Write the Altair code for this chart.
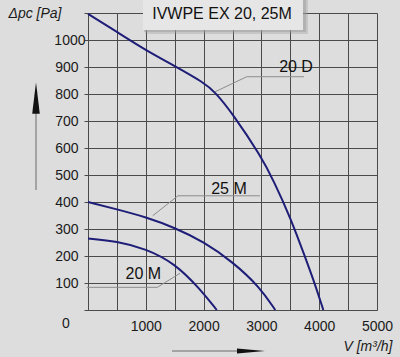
import altair as alt
import pandas as pd

# ---- data ----
x_20d = [0, 500, 1000, 1500, 2000, 2197, 2500, 3000, 3206, 3507, 3754, 3927, 4071]
y_20d = [1097, 1030, 962, 904, 843, 808, 728, 567, 481, 340, 197, 96, 0]
x_25m = [0, 500, 1000, 1500, 2000, 2500, 2976, 3240]
y_25m = [400, 373, 344, 305, 253, 179, 84, 0]
x_20m = [0, 500, 1000, 1500, 1938, 2227]
y_20m = [265, 255, 227, 173, 78, 0]

curve_names = ["20 D", "25 M", "20 M"]
label_x = [3599, 2439, 957]
label_y = [901, 447, 132]

lead_20d_x = [2197, 2746, 3737]
lead_20d_y = [808, 864, 864]
lead_25m_x = [1119, 1557, 2976]
lead_25m_y = [349, 423, 423]
lead_20m_x = [-20, 1199, 1592]
lead_20m_y = [84, 84, 136]

x_ticks = list(range(0, 5001, 500))
y_ticks = list(range(0, 1101, 100))
chart_title = "IVWPE EX 20, 25M"

FONT = "Liberation Sans"
GRID = "#4a4a4a"
BG = "#dddddd"
NAVY = "#1e1e78"

rows = []
for name, xs_, ys_ in zip(curve_names, [x_20d, x_25m, x_20m], [y_20d, y_25m, y_20m]):
    for i, (a, b) in enumerate(zip(xs_, ys_)):
        rows.append({"series": name, "idx": i, "V": a, "P": b})
curves_df = pd.DataFrame(rows)

lrows = []
for name, xs_, ys_ in zip(curve_names, [lead_20d_x, lead_25m_x, lead_20m_x],
                          [lead_20d_y, lead_25m_y, lead_20m_y]):
    for i, (a, b) in enumerate(zip(xs_, ys_)):
        lrows.append({"series": name, "idx": i, "V": a, "P": b})
lead_df = pd.DataFrame(lrows)

labels_df = pd.DataFrame({"series": curve_names, "V": label_x, "P": label_y})

xs = alt.Scale(domain=[0, 5000], nice=False)
ys = alt.Scale(domain=[0, 1100], nice=False)

x_axis = alt.Axis(
    values=x_ticks, format="d",
    labelExpr="datum.value % 1000 == 0 && datum.value > 0 ? datum.label : ''",
    labelFont=FONT, labelFontSize=14, labelColor="#1a1a1a", labelPadding=9,
    labelFlush=False, labelOverlap=False,
    ticks=False, grid=True, gridColor=GRID, gridOpacity=1, gridWidth=1,
    domainColor=GRID, domainWidth=1,
    title="V [m³/h]", titleFont=FONT, titleFontSize=14, titleFontStyle="italic",
    titleFontWeight="normal", titleColor="#1a1a1a",
    titleX=304, titleY=36, titleAlign="right", titleBaseline="middle",
)
y_axis = alt.Axis(
    values=y_ticks, format="d",
    labelExpr="datum.value == 0 || datum.value == 1100 ? '' : datum.label",
    labelFont=FONT, labelFontSize=14, labelColor="#1a1a1a",
    labelPadding={"condition": {"test": "datum.value == 1000", "value": -1}, "value": 6},
    labelBaseline="middle", labelFlush=False, labelOverlap=False,
    ticks=True, tickSize=4, tickColor=GRID,
    grid=True, gridColor=GRID, gridOpacity=1, gridWidth=1,
    domainColor=GRID, domainWidth=1,
    title="Δpc [Pa]", titleFont=FONT, titleFontSize=14, titleFontStyle="italic",
    titleFontWeight="normal", titleColor="#1a1a1a", titleAngle=0,
    titleX=-80, titleY=0, titleAlign="left", titleBaseline="middle",
)

X = alt.X("V:Q", scale=xs, axis=x_axis)
Y = alt.Y("P:Q", scale=ys, axis=y_axis)

curves = alt.Chart(curves_df).mark_line(
    interpolate="basis", strokeWidth=2, color=NAVY
).encode(x=X, y=Y, detail="series:N", order="idx:Q")

leaders = alt.Chart(lead_df).mark_line(strokeWidth=1, color="#8c8c8c", clip=False).encode(
    x=X, y=Y, detail="series:N", order="idx:Q",
)

labels = alt.Chart(labels_df).mark_text(
    font=FONT, fontSize=16, color="#111111", align="center", baseline="middle"
).encode(x=X, y=Y, text="series:N")

zero_df = pd.DataFrame({"V": [0], "P": [0], "t": ["0"]})
zero = alt.Chart(zero_df).mark_text(
    font=FONT, fontSize=14, color="#1a1a1a", align="center", baseline="middle",
    dx=-22, dy=14,
).encode(x=X, y=Y, text="t:N")

one = pd.DataFrame({"t": [chart_title]})
deco = alt.Chart(one)
shadow1 = deco.mark_rect(color="#9a9a9a", opacity=0.35).encode(
    x=alt.value(57), x2=alt.value(220), y=alt.value(-13), y2=alt.value(21))
shadow2 = deco.mark_rect(color="#9a9a9a", opacity=0.45).encode(
    x=alt.value(56), x2=alt.value(218), y=alt.value(-13), y2=alt.value(19))
box = deco.mark_rect(color="#e6e6e6").encode(
    x=alt.value(55), x2=alt.value(215), y=alt.value(-13), y2=alt.value(17))
title_txt = deco.mark_text(
    font=FONT, fontSize=16, color="#111111", align="center", baseline="middle"
).encode(x=alt.value(134), y=alt.value(1), text="t:N")

v_line = deco.mark_rule(color="#6a6a6a", strokeWidth=1).encode(
    x=alt.value(-52), y=alt.value(85), y2=alt.value(177))
v_head = deco.mark_point(
    shape="M0,-1L0.24,1L-0.24,1Z", size=1000, filled=True, color="#111111", opacity=1
).encode(x=alt.value(-52), y=alt.value(85))
h_line = deco.mark_rule(color="#6a6a6a", strokeWidth=1).encode(
    x=alt.value(84), x2=alt.value(155), y=alt.value(338))
h_head = deco.mark_point(
    shape="M1,0L-1,-0.18L-1,0.18Z", size=784, filled=True, color="#111111", opacity=1
).encode(x=alt.value(163), y=alt.value(338))

chart = alt.layer(
    curves, leaders, labels, zero, shadow1, shadow2, box, title_txt,
    v_line, v_head, h_line, h_head
).properties(
    width=289, height=297,
    padding={"left": 88, "top": 13, "right": 23, "bottom": 47},
    autosize=alt.AutoSizeParams(type="none"),
    background=BG,
).configure_view(stroke=None)

chart.save("out.html", embed_options={"renderer": "svg", "actions": False})
